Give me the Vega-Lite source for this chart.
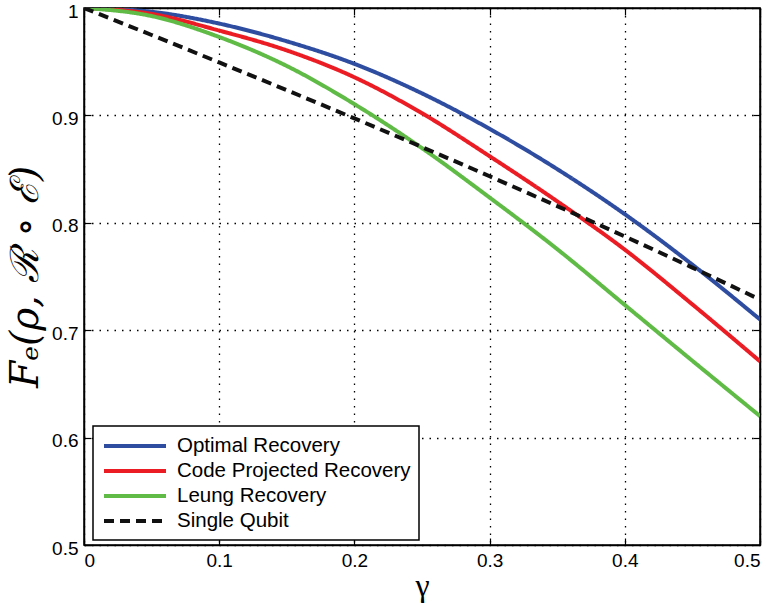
{
  "$schema": "https://vega.github.io/schema/vega-lite/v6.json",
  "width": 676,
  "height": 537,
  "autosize": {"type": "none"},
  "padding": {"left": 84, "top": 8, "right": 13, "bottom": 58},
  "background": "white",
  "data": {
    "values": [
      {"g": 0, "F": 1, "s": "Optimal Recovery"},
      {"g": 0.05, "F": 0.9965, "s": "Optimal Recovery"},
      {"g": 0.1, "F": 0.9855, "s": "Optimal Recovery"},
      {"g": 0.15, "F": 0.969, "s": "Optimal Recovery"},
      {"g": 0.2, "F": 0.948, "s": "Optimal Recovery"},
      {"g": 0.25, "F": 0.9205, "s": "Optimal Recovery"},
      {"g": 0.3, "F": 0.8875, "s": "Optimal Recovery"},
      {"g": 0.35, "F": 0.85, "s": "Optimal Recovery"},
      {"g": 0.4, "F": 0.808, "s": "Optimal Recovery"},
      {"g": 0.45, "F": 0.761, "s": "Optimal Recovery"},
      {"g": 0.5, "F": 0.71, "s": "Optimal Recovery"},
      {"g": 0, "F": 1, "s": "Code Projected Recovery"},
      {"g": 0.05, "F": 0.9945, "s": "Code Projected Recovery"},
      {"g": 0.1, "F": 0.979, "s": "Code Projected Recovery"},
      {"g": 0.15, "F": 0.9605, "s": "Code Projected Recovery"},
      {"g": 0.2, "F": 0.9355, "s": "Code Projected Recovery"},
      {"g": 0.25, "F": 0.902, "s": "Code Projected Recovery"},
      {"g": 0.3, "F": 0.862, "s": "Code Projected Recovery"},
      {"g": 0.35, "F": 0.82, "s": "Code Projected Recovery"},
      {"g": 0.4, "F": 0.775, "s": "Code Projected Recovery"},
      {"g": 0.45, "F": 0.724, "s": "Code Projected Recovery"},
      {"g": 0.5, "F": 0.671, "s": "Code Projected Recovery"},
      {"g": 0, "F": 1, "s": "Leung Recovery"},
      {"g": 0.05, "F": 0.9925, "s": "Leung Recovery"},
      {"g": 0.1, "F": 0.973, "s": "Leung Recovery"},
      {"g": 0.15, "F": 0.946, "s": "Leung Recovery"},
      {"g": 0.2, "F": 0.9105, "s": "Leung Recovery"},
      {"g": 0.25, "F": 0.8695, "s": "Leung Recovery"},
      {"g": 0.3, "F": 0.8235, "s": "Leung Recovery"},
      {"g": 0.35, "F": 0.7755, "s": "Leung Recovery"},
      {"g": 0.4, "F": 0.7235, "s": "Leung Recovery"},
      {"g": 0.45, "F": 0.6715, "s": "Leung Recovery"},
      {"g": 0.5, "F": 0.62, "s": "Leung Recovery"},
      {"g": 0, "F": 1, "s": "Single Qubit"},
      {"g": 0.05, "F": 0.97485, "s": "Single Qubit"},
      {"g": 0.1, "F": 0.9493, "s": "Single Qubit"},
      {"g": 0.15, "F": 0.92347, "s": "Single Qubit"},
      {"g": 0.2, "F": 0.89721, "s": "Single Qubit"},
      {"g": 0.25, "F": 0.87051, "s": "Single Qubit"},
      {"g": 0.3, "F": 0.84333, "s": "Single Qubit"},
      {"g": 0.35, "F": 0.81558, "s": "Single Qubit"},
      {"g": 0.4, "F": 0.7873, "s": "Single Qubit"},
      {"g": 0.45, "F": 0.75828, "s": "Single Qubit"},
      {"g": 0.5, "F": 0.72855, "s": "Single Qubit"}
    ]
  },
  "layer": [
    {
      "mark": {"type": "line", "strokeWidth": 4, "interpolate": "monotone", "clip": true},
      "encoding": {
        "x": {
          "field": "g", "type": "quantitative",
          "scale": {"domain": [0, 0.5], "nice": false, "zero": false},
          "axis": {
            "values": [0, 0.1, 0.2, 0.3, 0.4, 0.5], "format": "~g",
            "title": "γ", "titleFont": "Liberation Serif", "titleFontSize": 32, "titleFontWeight": "normal",
            "titlePadding": 0, "grid": true, "labelPadding": 13
          }
        },
        "y": {
          "field": "F", "type": "quantitative",
          "scale": {"domain": [0.5, 1], "nice": false, "zero": false},
          "axis": {
            "values": [0.5, 0.6, 0.7, 0.8, 0.9, 1], "format": "~g",
            "title": "Fₑ(ρ, ℛ ∘ ℰ)", "titleFont": "DejaVu Serif", "titleFontStyle": "italic",
            "titleFontSize": 39, "titleFontWeight": "normal", "titlePadding": 6, "grid": true,
            "labelPadding": 13, "labelOffset": 3
          }
        },
        "color": {
          "field": "s", "type": "nominal",
          "scale": {
            "domain": ["Optimal Recovery", "Code Projected Recovery", "Leung Recovery", "Single Qubit"],
            "range": ["#2f4da0", "#ec1c24", "#5fbb46", "#111111"]
          },
          "legend": {"title": null}
        },
        "strokeDash": {
          "field": "s", "type": "nominal",
          "scale": {
            "domain": ["Optimal Recovery", "Code Projected Recovery", "Leung Recovery", "Single Qubit"],
            "range": [[1, 0], [1, 0], [1, 0], [10, 6]]
          },
          "legend": {"title": null}
        }
      }
    },
    {
      "mark": {"type": "line", "opacity": 0},
      "encoding": {
        "x": {"field": "g", "type": "quantitative", "axis": {"orient": "top", "values": [0, 0.1, 0.2, 0.3, 0.4, 0.5], "labels": false, "title": null, "grid": false}},
        "y": {"field": "F", "type": "quantitative", "axis": {"orient": "right", "values": [0.5, 0.6, 0.7, 0.8, 0.9, 1], "labels": false, "title": null, "grid": false}}
      }
    }
  ],
  "resolve": {"axis": {"x": "independent", "y": "independent"}},
  "config": {
    "view": {"stroke": "black", "strokeWidth": 1.5},
    "axis": {
      "domainColor": "black", "domainWidth": 1.5,
      "tickColor": "black", "tickSize": -7, "tickWidth": 1.2,
      "labelFont": "Liberation Sans", "labelFontSize": 19, "labelColor": "black",
      "titleColor": "black",
      "gridColor": "black", "gridOpacity": 1, "gridDash": [1.5, 6], "gridWidth": 1.3
    },
    "legend": {
      "orient": "none", "legendX": 9, "legendY": 418,
      "direction": "vertical",
      "fillColor": "white", "strokeColor": "black", "strokeWidth": 1.5, "cornerRadius": 0,
      "padding": 8,
      "symbolType": "M-0.9,0L5.3,0", "symbolSize": 400, "symbolStrokeWidth": 4,
      "labelFont": "Liberation Sans", "labelFontSize": 20.5, "labelColor": "black", "labelLimit": 400,
      "rowPadding": 2, "labelOffset": 52
    }
  }
}
